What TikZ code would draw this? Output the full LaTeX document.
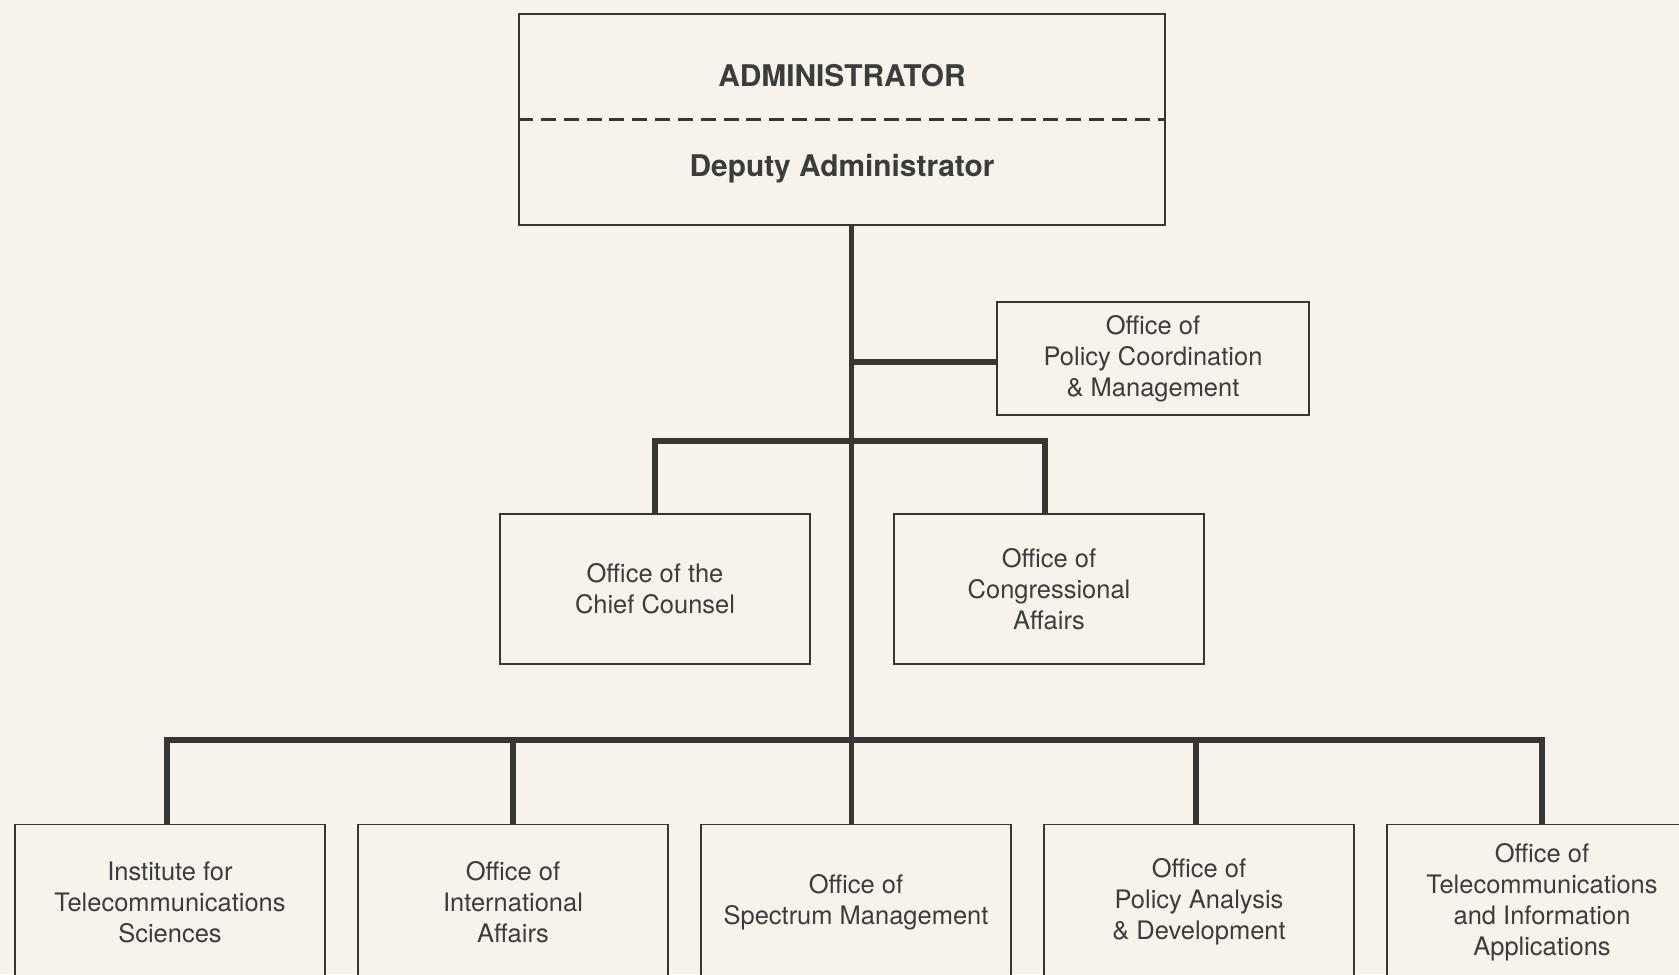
\documentclass[tikz,border=0pt]{standalone}
\usepackage{fontspec}
\setmainfont{TeX Gyre Heros}
\usetikzlibrary{positioning}
\definecolor{paper}{HTML}{F7F3EA}
\definecolor{ink}{HTML}{363632}
\definecolor{txt}{HTML}{3C3C3C}

\begin{document}
\begin{tikzpicture}[node distance=6.86cm,on grid,
        office/.style={draw=ink,line width=1.1pt,fill=paper,align=center,text=txt,
            minimum width=6.2cm,minimum height=3cm,font=\fontsize{14.5}{17.6}\selectfont},
        headline/.style={text=txt,font=\bfseries\fontsize{17}{20}\selectfont},
        link/.style={draw=ink,line width=3pt}]
        \clip (0,0) rectangle (33.58,-19.48);
        \fill[paper] (0,0) rectangle (33.58,-19.48);
        % top of the chart
        \node[office, minimum width=12.92cm, minimum height=4.22cm] (admin) at (16.84,-2.39) {};
        \draw[ink,line width=1.2pt,dash pattern=on 8.5pt off 4.5pt] (admin.west) -- (admin.east);
        \node[headline] (admtitle) [above=0.87cm of admin] {ADMINISTRATOR};
        \node[headline] (deptitle) [below=0.99cm of admin] {Deputy Administrator};
        \node[office, minimum width=6.24cm, minimum height=2.26cm] (policy) at (23.06,-7.17) {Office of\\Policy Coordination\\\& Management};
        \node[office] (counsel) at (13.1,-11.78) {Office of the\\Chief Counsel};
        \node[office] (cong) [right=7.88cm of counsel] {Office of\\Congressional\\Affairs};
        % bottom row
        \node[office, minimum height=3.1cm] (its) at (3.4,-18.04) {Institute for\\Telecommunications\\Sciences};
        \node[office, minimum height=3.1cm] (intl) [right=of its] {Office of\\International\\Affairs};
        \node[office, minimum height=3.1cm] (spec) [right=of intl] {Office of\\Spectrum Management};
        \node[office, minimum height=3.1cm] (pad) [right=of spec] {Office of\\Policy Analysis\\\& Development};
        \node[office, minimum height=3.1cm] (tia) [right=of pad] {Office of\\Telecommunications\\and Information\\Applications};
        % connectors
        \coordinate (trunk) at (17.03,-7.24);
        \coordinate (mid) at (17.03,-8.82);
        \coordinate (bus) at (17.03,-14.8);
        \draw[link] (admin.south -| trunk) -- (spec.north -| trunk);
        \draw[link] (trunk -| policy.west) -- (trunk);
        \draw[link] (counsel.north) |- (mid) -| ([xshift=-0.08cm]cong.north);
        \draw[link] ([xshift=-0.06cm]its.north) |- (bus) -| (tia.north);
        \draw[link] (intl.north) -- (intl.north |- bus);
        \draw[link] ([xshift=-0.06cm]pad.north) -- ([xshift=-0.06cm]pad.north |- bus);
    \end{tikzpicture}
\end{document}
